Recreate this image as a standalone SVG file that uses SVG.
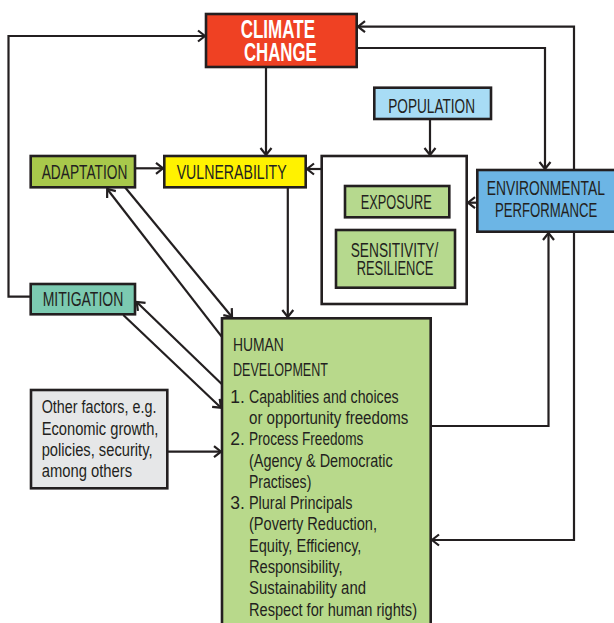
<svg xmlns="http://www.w3.org/2000/svg" width="614" height="623" viewBox="0 0 614 623">
<style>
.box{stroke:#231f20;stroke-width:2.6}
.lbl{font-family:"Liberation Sans",Arial,sans-serif;font-size:20px;fill:#231f20}
.cc{font-family:"Liberation Sans",Arial,sans-serif;font-size:25.5px;font-weight:bold;fill:#ffffff}
.body{font-family:"Liberation Sans",Arial,sans-serif;font-size:17.5px;fill:#231f20}
.hd{font-family:"Liberation Sans",Arial,sans-serif;font-size:18px;fill:#231f20}
.con{fill:none;stroke:#231f20;stroke-width:2.2;marker-end:url(#arr)}
</style>
<defs>
<marker id="arr" markerUnits="userSpaceOnUse" markerWidth="16" markerHeight="16" refX="0" refY="0" orient="auto" overflow="visible">
<path d="M-7,-5.5 L0,0 L-7,5.5" fill="none" stroke="#231f20" stroke-width="2.2"/>
</marker>
</defs>
<rect width="614" height="623" fill="#ffffff"/>

<g id="climate-change">
<rect class="box" x="206" y="14" width="150.7" height="53" fill="#ef4123" stroke-width="3"/>
<text class="cc" x="240.7" y="38.3" textLength="74.3" lengthAdjust="spacingAndGlyphs">CLIMATE</text>
<text class="cc" x="244" y="61" textLength="72.7" lengthAdjust="spacingAndGlyphs">CHANGE</text>
</g>
<g id="population">
<rect class="box" x="374.3" y="87.7" width="116.7" height="31.3" fill="#a8dcf5"/>
<text class="lbl" x="388.3" y="112.7" textLength="86.7" lengthAdjust="spacingAndGlyphs">POPULATION</text>
</g>
<g id="adaptation">
<rect class="box" x="30.7" y="156" width="104.3" height="31.3" fill="#a8c84b"/>
<text class="lbl" x="41.7" y="179" textLength="85.6" lengthAdjust="spacingAndGlyphs">ADAPTATION</text>
</g>
<g id="vulnerability">
<rect class="box" x="164.3" y="156" width="141.4" height="31.3" fill="#fff200"/>
<text class="lbl" x="176.7" y="179" textLength="110" lengthAdjust="spacingAndGlyphs">VULNERABILITY</text>
</g>
<g id="exposure-group">
<rect class="box" x="321.7" y="156" width="145" height="148" fill="#ffffff"/>
</g>
<g id="exposure">
<rect class="box" x="345" y="186" width="104.3" height="31.3" fill="#b6d98e"/>
<text class="lbl" x="360.7" y="209" textLength="71" lengthAdjust="spacingAndGlyphs">EXPOSURE</text>
</g>
<g id="sensitivity">
<rect class="box" x="336" y="230" width="119" height="57.7" fill="#b6d98e"/>
<text class="lbl" x="350.7" y="257.3" textLength="87.6" lengthAdjust="spacingAndGlyphs">SENSITIVITY/</text>
<text class="lbl" x="356.7" y="275" textLength="76.6" lengthAdjust="spacingAndGlyphs">RESILIENCE</text>
</g>
<g id="environmental-performance">
<rect class="box" x="477.3" y="170" width="145" height="61.7" fill="#6cb5e5"/>
<text class="lbl" x="486.7" y="195" textLength="118.3" lengthAdjust="spacingAndGlyphs">ENVIRONMENTAL</text>
<text class="lbl" x="495" y="217.3" textLength="102.3" lengthAdjust="spacingAndGlyphs">PERFORMANCE</text>
</g>
<g id="mitigation">
<rect class="box" x="30.7" y="284" width="104.3" height="30.3" fill="#7ccab1"/>
<text class="lbl" x="42.7" y="306" textLength="80.6" lengthAdjust="spacingAndGlyphs">MITIGATION</text>
</g>
<g id="other-factors">
<rect class="box" x="31" y="390" width="136.3" height="98.3" fill="#e6e7e8"/>
<text class="body" x="41.7" y="413.3" textLength="114.7" lengthAdjust="spacingAndGlyphs">Other factors, e.g.</text>
<text class="body" x="41.7" y="435" textLength="116.7" lengthAdjust="spacingAndGlyphs">Economic growth,</text>
<text class="body" x="41.7" y="455.7" textLength="110.8" lengthAdjust="spacingAndGlyphs">policies, security,</text>
<text class="body" x="41.7" y="476.7" textLength="90.4" lengthAdjust="spacingAndGlyphs">among others</text>
</g>
<g id="human-development">
<rect class="box" x="222" y="318.3" width="208.7" height="320" fill="#b8d98b"/>
<text class="hd" x="233" y="350.7" textLength="50.9" lengthAdjust="spacingAndGlyphs">HUMAN</text>
<text class="hd" x="233" y="375.7" textLength="95" lengthAdjust="spacingAndGlyphs">DEVELOPMENT</text>
<text class="body" x="230.2" y="402.7">1.</text>
<text class="body" x="249" y="402.7" textLength="149.6" lengthAdjust="spacingAndGlyphs">Capablities and choices</text>
<text class="body" x="249" y="424.3" textLength="159.4" lengthAdjust="spacingAndGlyphs">or opportunity freedoms</text>
<text class="body" x="230.2" y="445">2.</text>
<text class="body" x="249" y="445" textLength="114.3" lengthAdjust="spacingAndGlyphs">Process Freedoms</text>
<text class="body" x="249" y="466.7" textLength="143.7" lengthAdjust="spacingAndGlyphs">(Agency &amp; Democratic</text>
<text class="body" x="249" y="487.7" textLength="62.3" lengthAdjust="spacingAndGlyphs">Practises)</text>
<text class="body" x="230.2" y="509">3.</text>
<text class="body" x="249" y="509" textLength="103.4" lengthAdjust="spacingAndGlyphs">Plural Principals</text>
<text class="body" x="249" y="530" textLength="128" lengthAdjust="spacingAndGlyphs">(Poverty Reduction,</text>
<text class="body" x="249" y="551.7" textLength="112.4" lengthAdjust="spacingAndGlyphs">Equity, Efficiency,</text>
<text class="body" x="249" y="573.3" textLength="93.6" lengthAdjust="spacingAndGlyphs">Responsibility,</text>
<text class="body" x="249" y="594" textLength="117" lengthAdjust="spacingAndGlyphs">Sustainability and</text>
<text class="body" x="249" y="616" textLength="168" lengthAdjust="spacingAndGlyphs">Respect for human rights)</text>
</g>

<g id="connectors">
<path class="con" d="M30.7,296.7 H8.5 V36 H205"/>
<path class="con" d="M266,67.5 V155"/>
<path class="con" d="M356.7,48 H545 V169"/>
<path class="con" d="M574,170 V26.7 H358"/>
<path class="con" d="M574,231.7 V540 H432"/>
<path class="con" d="M430.7,426 H548.5 V233"/>
<path class="con" d="M477.3,202.7 H468"/>
<path class="con" d="M430,119 V155"/>
<path class="con" d="M321.7,169 H307"/>
<path class="con" d="M135,168.3 H163"/>
<path class="con" d="M287.8,187.3 V317"/>
<path class="con" d="M221.7,336.7 L107.2,189"/>
<path class="con" d="M125,187.3 L232,317"/>
<path class="con" d="M221.7,384 L136.7,302"/>
<path class="con" d="M123.3,315 L221,407.7"/>
<path class="con" d="M167.3,451.7 H221"/>
</g>
</svg>
